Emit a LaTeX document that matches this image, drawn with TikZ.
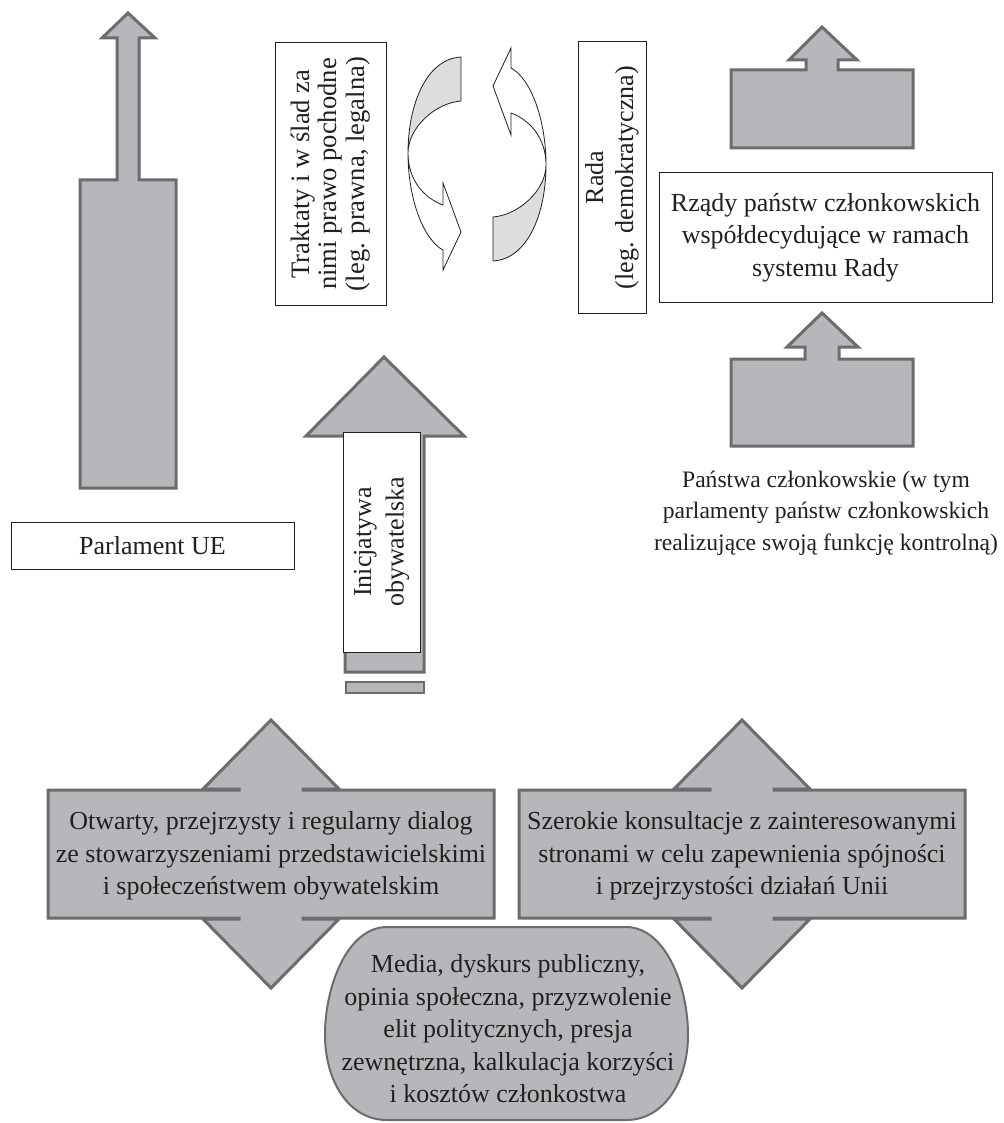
\documentclass[tikz,border=0pt]{standalone}
\usepackage{fontspec}
\setmainfont{Liberation Serif}
\definecolor{arrfill}{RGB}{182,183,186}
\definecolor{arredge}{RGB}{108,108,110}
\definecolor{twistfill}{RGB}{220,221,223}
\definecolor{ink}{RGB}{35,31,32}
\newcommand{\diagfont}{\fontsize{13}{16.25}\selectfont}

\begin{document}
\begin{tikzpicture}
[x=0.5pt,y=-0.5pt,
blk/.style={fill=arrfill,draw=arredge,line width=1.5pt},
txtbox/.style={draw=ink,fill=white,line width=0.5pt,inner sep=0pt,align=center,font=\diagfont,text=ink},
lbl/.style={align=center,font=\diagfont,text=ink,inner sep=0pt},
twist/.style={draw=ink,line width=0.4pt}]
\useasboundingbox (0,0) rectangle (1004,1123);

% Parlament UE
\draw[blk] (128,13) -- (155,38) -- (139,38) -- (139,180) -- (176,180) -- (176,488)
-- (80,488) -- (80,180) -- (117,180) -- (117,38) -- (102,38) -- cycle;
\node[txtbox,minimum width=141.5pt,minimum height=23.5pt] (parl) at (152.5,545.5) {Parlament UE};

% traktaty, rada i obieg
\node[txtbox,rotate=90,minimum width=131pt,minimum height=55.5pt,
font=\fontsize{13.3}{13.9}\selectfont] (trakt) at (330.5,174)
{Traktaty i w ślad za\\nimi prawo pochodne\\(leg. prawna, legalna)};
\foreach \a in {0,180}{
\begin{scope}[rotate around={\a:(477,159)}]
\path[twist,fill=twistfill] (461,57) .. controls (426,59) and (408,105) .. (408,153)
.. controls (408,128) and (435,103) .. (461,101) -- cycle;
\path[twist,fill=white] (408,153) .. controls (408,200) and (424,240) .. (443,250)
-- (443,270) -- (461,232) -- (443,183) -- (443,205)
.. controls (424,198) and (408,180) .. (408,153) -- cycle;
\end{scope}
}
\node[txtbox,rotate=90,minimum width=135.5pt,minimum height=34pt,
font=\fontsize{13}{15}\selectfont] (rada) at (612,177.5)
{Rada\\(leg. demokratyczna)};

% rzady i panstwa
\draw[blk] (822,27) -- (857,60) -- (838,60) -- (838,70) -- (913,70) -- (913,148)
-- (731,148) -- (731,70) -- (806,70) -- (806,60) -- (789,60) -- cycle;
\node[txtbox,minimum width=166.5pt,minimum height=64.5pt] (rzady) at (825.5,237.5)
{Rządy państw członkowskich\\współdecydujące w ramach\\systemu Rady};
\draw[blk] (822,313) -- (858,347) -- (839,347) -- (839,359) -- (913,359) -- (913,446)
-- (731,446) -- (731,359) -- (805,359) -- (805,347) -- (787,347) -- cycle;
\node[lbl,font=\fontsize{11.8}{15.75}\selectfont] (panstwa) at (826,513)
{Państwa członkowskie (w tym\\parlamenty państw członkowskich\\realizujące swoją funkcję kontrolną)};

% inicjatywa obywatelska
\draw[blk] (384,357) -- (464,436) -- (424,436) -- (424,672) -- (345,672) -- (345,436)
-- (306,436) -- cycle;
\node[txtbox,rotate=90,minimum width=110pt,minimum height=38.5pt] (inic) at (381.5,542)
{Inicjatywa\\obywatelska};
\draw[blk,line width=1.2pt] (346,682) rectangle (424,693);

% dialog i konsultacje
\foreach \dx in {0,471}{
\draw[blk,shift={(\dx,0)}] (48,790) -- (239,790) -- (239,789) -- (203,789) -- (271,720)
-- (339,789) -- (303,789) -- (303,790) -- (494,790) -- (494,918) -- (303,918)
-- (303,919) -- (339,919) -- (271,988) -- (203,919) -- (239,919) -- (239,918)
-- (48,918) -- cycle;
}
\node[lbl] (dialog) at (271,856)
{Otwarty, przejrzysty i regularny dialog\\ze stowarzyszeniami przedstawicielskimi\\i społeczeństwem obywatelskim};
\node[lbl] (konsult) at (742,856)
{Szerokie konsultacje z zainteresowanymi\\stronami w celu zapewnienia spójności\\i przejrzystości działań Unii};

% media
\draw[blk,line width=1pt] (387,927) -- (626,927) .. controls (665,927) and (688,985) .. (688,1035)
.. controls (688,1080) and (665,1120) .. (626,1120) -- (387,1120)
.. controls (348,1120) and (325,1080) .. (325,1035)
.. controls (325,985) and (348,927) .. (387,927) -- cycle;
\node[lbl] (media) at (508,1029)
{Media, dyskurs publiczny,\\opinia społeczna, przyzwolenie\\elit politycznych, presja\\zewnętrzna, kalkulacja korzyści\\i kosztów członkostwa};
\end{tikzpicture}
\end{document}
